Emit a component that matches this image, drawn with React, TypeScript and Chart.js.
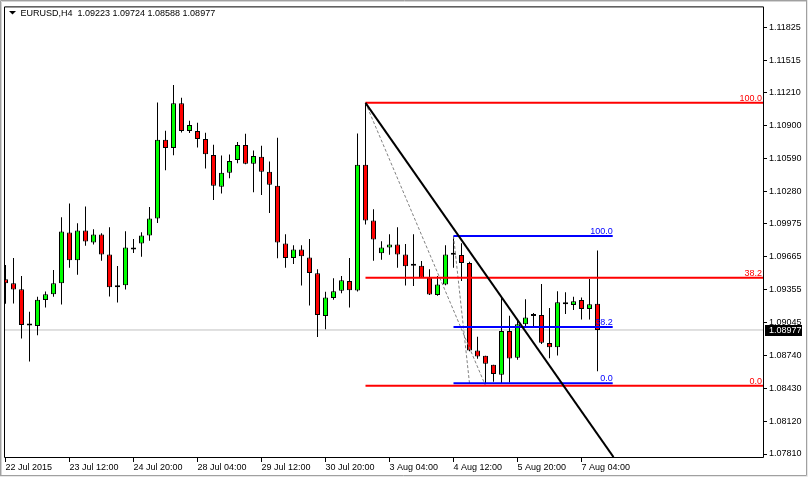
import React, { useEffect, useRef } from "react";
import { Chart, registerables } from "chart.js";

Chart.register(...registerables);

// ---- Data (EURUSD H4, bar index 0..74) ----
const opens = [
  1.09454, 1.09417, 1.09361, 1.09024, 1.09014, 1.09258, 1.09314, 1.09417, 1.09894, 1.09632,
  1.09913, 1.09801, 1.09876, 1.09688, 1.0938, 1.09398, 1.09754, 1.09791, 1.09866, 1.10025,
  1.10767, 1.1069, 1.11111, 1.10849, 1.10849, 1.10774, 1.10624, 1.10325, 1.10456, 1.10577,
  1.10718, 1.1054, 1.10606, 1.10465, 1.10334, 1.09791, 1.09654, 1.09735, 1.0966, 1.09511,
  1.09108, 1.09277, 1.09345, 1.09439, 1.09348, 1.10531, 1.10007, 1.09698, 1.09754, 1.09782,
  1.09688, 1.09585, 1.09582, 1.09469, 1.09305, 1.09404, 1.09685, 1.09682, 1.09607, 1.08783,
  1.08734, 1.0865, 1.08556, 1.08968, 1.08715, 1.0903, 1.09111, 1.09118, 1.08855, 1.08814,
  1.09239, 1.09211, 1.09258, 1.09174, 1.09223,
];
const highs = [
  1.09588, 1.09654, 1.09485, 1.09148, 1.09289, 1.09338, 1.09541, 1.10037, 1.10168, 1.09981,
  1.1014, 1.09925, 1.09888, 1.09944, 1.09579, 1.09906, 1.09832, 1.09897, 1.10134, 1.11117,
  1.10852, 1.11282, 1.11161, 1.10945, 1.10927, 1.10833, 1.10721, 1.10618, 1.10627, 1.10746,
  1.10824, 1.10665, 1.10711, 1.10562, 1.10786, 1.09878, 1.09775, 1.09775, 1.09832, 1.09548,
  1.09336, 1.09464, 1.09485, 1.09654, 1.10826, 1.11114, 1.10112, 1.09813, 1.09878, 1.09944,
  1.09785, 1.09878, 1.09626, 1.09548, 1.09485, 1.09775, 1.09862, 1.09794, 1.09619, 1.08914,
  1.08734, 1.0865, 1.09282, 1.09111, 1.0908, 1.09267, 1.09136, 1.0941, 1.09183, 1.09342,
  1.09333, 1.09289, 1.09282, 1.09457, 1.09724,
];
const lows = [
  1.09223, 1.09226, 1.08898, 1.0868, 1.08927, 1.09189, 1.09289, 1.09217, 1.09563, 1.09497,
  1.09769, 1.09782, 1.09629, 1.09292, 1.09235, 1.09357, 1.09701, 1.09666, 1.09816, 1.09984,
  1.1048, 1.10621, 1.10836, 1.1083, 1.10695, 1.10496, 1.10199, 1.10262, 1.10405, 1.10546,
  1.10536, 1.10274, 1.10246, 1.10078, 1.09651, 1.09563, 1.09598, 1.09395, 1.09207, 1.08912,
  1.08983, 1.09261, 1.09323, 1.09189, 1.09338, 1.09969, 1.09629, 1.09638, 1.09685, 1.09563,
  1.09395, 1.09392, 1.09466, 1.09305, 1.09298, 1.09398, 1.09563, 1.09439, 1.08777, 1.08706,
  1.0847, 1.0849, 1.08478, 1.08482, 1.08696, 1.09001, 1.09001, 1.08846, 1.08711, 1.08737,
  1.09127, 1.09164, 1.09076, 1.09076, 1.08588,
];
const closes = [
  1.09417, 1.09357, 1.09024, 1.0902, 1.09261, 1.09314, 1.09417, 1.09904, 1.09632, 1.09913,
  1.0981, 1.09876, 1.09688, 1.0938, 1.09398, 1.09754, 1.09735, 1.09866, 1.10025, 1.10767,
  1.1069, 1.11111, 1.10849, 1.10905, 1.10774, 1.1063, 1.10334, 1.10456, 1.10568, 1.10718,
  1.1054, 1.10615, 1.10465, 1.10344, 1.09801, 1.09654, 1.09735, 1.0967, 1.09513, 1.09118,
  1.09282, 1.09342, 1.09445, 1.09351, 1.10531, 1.10007, 1.09829, 1.09754, 1.09782, 1.09688,
  1.09576, 1.09582, 1.09469, 1.0931, 1.09404, 1.09688, 1.09684, 1.09607, 1.08783, 1.08727,
  1.08659, 1.08562, 1.08968, 1.08709, 1.0903, 1.09095, 1.09108, 1.08858, 1.08814, 1.09239,
  1.0922, 1.09248, 1.09174, 1.0922, 1.08977,
];

const xTickIndex = [0, 8, 16, 24, 32, 40, 48, 56, 64, 72];
const xTickLabels = [
  "22 Jul 2015", "23 Jul 12:00", "24 Jul 20:00", "28 Jul 04:00", "29 Jul 12:00",
  "30 Jul 20:00", "3 Aug 04:00", "4 Aug 12:00", "5 Aug 20:00", "7 Aug 04:00",
];
const yTickValues = [
  1.11825, 1.11515, 1.1121, 1.109, 1.1059, 1.1028, 1.09975, 1.09665, 1.09355, 1.09045,
  1.0874, 1.0843, 1.0812, 1.0781,
];

const lastPrice = 1.08977;
const headerText = "EURUSD,H4  1.09223 1.09724 1.08588 1.08977";

const X_MIN = -0.0625;
const X_MAX = 94.6875;
const Y_MIN = 1.077819;
const Y_MAX = 1.120122;

const fibLevels = [0, 38.2, 100];
// red Fibonacci: anchored on bar 45 high -> bar 60 low, levels run to right edge
const redFibAnchor = { fromIndex: 45, toIndex: 60, high: 1.11114, low: 1.08453, endIndex: X_MAX };
// blue Fibonacci: bar 56 high -> bar 58 low
const blueFibAnchor = { fromIndex: 56, toIndex: 58, high: 1.09862, low: 1.08475, endIndex: 75.9 };
// black trend line
const trendPoints = [
  { x: 45, y: 1.11114 },
  { x: 76, y: 1.07781 },
];

const FONT = "'Liberation Sans', Arial, sans-serif";

function fibPrice(f: typeof redFibAnchor, level: number) {
  return f.low + (level / 100) * (f.high - f.low);
}

export default function App() {
  const canvasRef = useRef<HTMLCanvasElement | null>(null);

  useEffect(() => {
    document.body.style.margin = "0";
    const canvas = canvasRef.current;
    if (!canvas) return;

    const hLine = (x0: number, x1: number, y: number, color: string, width: number, order: number) => ({
      type: "line" as const,
      data: [
        { x: x0, y },
        { x: x1, y },
      ],
      borderColor: color,
      borderWidth: width,
      pointRadius: 0,
      fill: false,
      order,
    });

    const datasets: any[] = [];
    // current price line (bottom-most)
    datasets.push(hLine(X_MIN, X_MAX, lastPrice, "#c0c0c0", 1, 30));
    // wicks
    datasets.push({
      type: "bar",
      data: opens.map((_, i) => ({ x: i, y: [lows[i], highs[i]] })),
      backgroundColor: "#000000",
      borderWidth: 0,
      barThickness: 1,
      maxBarThickness: 1,
      grouped: false,
      inflateAmount: 0,
      clip: 0,
      order: 29,
    });
    // bodies
    datasets.push({
      type: "bar",
      data: opens.map((o, i) => ({ x: i, y: [Math.min(o, closes[i]), Math.max(o, closes[i])] })),
      backgroundColor: opens.map((o, i) => (closes[i] >= o ? "#00ff00" : "#ff0000")),
      borderColor: "#000000",
      borderWidth: 1,
      borderSkipped: false,
      barThickness: 5,
      maxBarThickness: 5,
      minBarLength: 2,
      grouped: false,
      inflateAmount: 0,
      clip: 0,
      order: 28,
    });
    // dashed fib trend lines
    datasets.push({
      type: "line",
      data: [
        { x: redFibAnchor.fromIndex, y: redFibAnchor.high },
        { x: redFibAnchor.toIndex, y: redFibAnchor.low },
      ],
      borderColor: "#808080",
      borderWidth: 1,
      borderDash: [3, 2],
      pointRadius: 0,
      order: 12,
    });
    datasets.push({
      type: "line",
      data: [
        { x: blueFibAnchor.fromIndex, y: blueFibAnchor.high },
        { x: blueFibAnchor.toIndex, y: blueFibAnchor.low },
      ],
      borderColor: "#808080",
      borderWidth: 1,
      borderDash: [3, 2],
      pointRadius: 0,
      order: 12,
    });
    // fib level lines
    fibLevels.forEach((lv) => {
      datasets.push(hLine(redFibAnchor.fromIndex, redFibAnchor.endIndex, fibPrice(redFibAnchor, lv), "#ff0000", 2, 10));
      datasets.push(hLine(blueFibAnchor.fromIndex, blueFibAnchor.endIndex, fibPrice(blueFibAnchor, lv), "#0000ff", 2, 10));
    });
    // trend line
    datasets.push({
      type: "line",
      data: trendPoints,
      borderColor: "#000000",
      borderWidth: 2,
      pointRadius: 0,
      order: 5,
    });

    const decor = {
      id: "decor",
      afterDatasetsDraw(chart: any) {
        const ctx = chart.ctx as CanvasRenderingContext2D;
        const xs = chart.scales.x;
        const ys = chart.scales.y;
        ctx.save();
        ctx.font = `9px ${FONT}`;
        ctx.textBaseline = "alphabetic";
        ctx.textAlign = "right";
        fibLevels.forEach((lv) => {
          const label = lv.toFixed(1);
          ctx.fillStyle = "#ff0000";
          ctx.fillText(label, xs.getPixelForValue(redFibAnchor.endIndex) - 1, ys.getPixelForValue(fibPrice(redFibAnchor, lv)) - 2);
          ctx.fillStyle = "#0000ff";
          ctx.fillText(label, xs.getPixelForValue(blueFibAnchor.endIndex), ys.getPixelForValue(fibPrice(blueFibAnchor, lv)) - 2);
        });
        ctx.restore();
      },
      afterDraw(chart: any) {
        const ctx = chart.ctx as CanvasRenderingContext2D;
        const a = chart.chartArea;
        const ys = chart.scales.y;
        const W = chart.width;
        const H = chart.height;
        ctx.save();
        // plot frame
        ctx.strokeStyle = "#000000";
        ctx.lineWidth = 1;
        ctx.beginPath();
        ctx.moveTo(a.left - 0.5, a.top - 0.5);
        ctx.lineTo(a.right + 0.5, a.top - 0.5);
        ctx.lineTo(a.right + 0.5, a.bottom + 0.5);
        ctx.lineTo(a.left - 0.5, a.bottom + 0.5);
        ctx.closePath();
        ctx.stroke();
        // window border
        ctx.strokeStyle = "#a0a0a0";
        ctx.beginPath();
        ctx.moveTo(0.5, H);
        ctx.lineTo(0.5, 0.5);
        ctx.lineTo(W, 0.5);
        ctx.stroke();
        ctx.strokeStyle = "#d4d4d4";
        ctx.beginPath();
        ctx.moveTo(1.5, H);
        ctx.lineTo(1.5, 1.5);
        ctx.lineTo(W, 1.5);
        ctx.stroke();
        ctx.strokeStyle = "#a0a0a0";
        ctx.beginPath();
        ctx.moveTo(W - 1.5, 0);
        ctx.lineTo(W - 1.5, H - 1.5);
        ctx.lineTo(0, H - 1.5);
        ctx.stroke();
        ctx.strokeStyle = "#e8e8e8";
        ctx.beginPath();
        ctx.moveTo(W - 0.5, 0);
        ctx.lineTo(W - 0.5, H - 0.5);
        ctx.lineTo(0, H - 0.5);
        ctx.stroke();
        // header
        ctx.fillStyle = "#000000";
        ctx.beginPath();
        ctx.moveTo(9, 11);
        ctx.lineTo(16, 11);
        ctx.lineTo(12.5, 14.5);
        ctx.closePath();
        ctx.fill();
        ctx.font = `9px ${FONT}`;
        ctx.textAlign = "left";
        ctx.textBaseline = "alphabetic";
        ctx.fillText(headerText, 20.5, 16);
        // last price box
        const py = Math.round(ys.getPixelForValue(lastPrice));
        ctx.fillStyle = "#000000";
        ctx.fillRect(a.right + 2, py - 5, 37, 11);
        ctx.fillStyle = "#ffffff";
        ctx.textBaseline = "middle";
        ctx.fillText(lastPrice.toFixed(5), a.right + 6, py + 0.5);
        ctx.restore();
      },
    };

    const chart = new Chart(canvas, {
      type: "bar",
      data: { datasets },
      options: {
        responsive: false,
        animation: false,
        events: [],
        layout: { padding: { left: 5, top: 5, right: 0, bottom: 0 }, autoPadding: false },
        plugins: { legend: { display: false }, tooltip: { enabled: false }, title: { display: false } },
        scales: {
          x: {
            type: "linear",
            position: "bottom",
            min: X_MIN,
            max: X_MAX,
            offset: false,
            grid: { display: true, drawOnChartArea: false, drawTicks: true, tickLength: 5, color: "#000000", offset: false },
            border: { display: false },
            afterBuildTicks: (scale: any) => {
              scale.ticks = xTickIndex.map((v) => ({ value: v }));
            },
            afterFit: (scale: any) => {
              scale.height = 20;
            },
            ticks: {
              autoSkip: false,
              maxRotation: 0,
              minRotation: 0,
              align: "start",
              padding: 0,
              color: "#000000",
              font: { family: FONT, size: 9 },
              callback: (value: any) => {
                const k = xTickIndex.indexOf(Number(value));
                return k >= 0 ? xTickLabels[k] : "";
              },
            },
          },
          y: {
            type: "linear",
            position: "right",
            min: Y_MIN,
            max: Y_MAX,
            beginAtZero: false,
            grid: { display: true, drawOnChartArea: false, drawTicks: true, tickLength: 4, color: "#000000" },
            border: { display: false },
            afterBuildTicks: (scale: any) => {
              scale.ticks = yTickValues.map((v) => ({ value: v }));
            },
            afterFit: (scale: any) => {
              scale.width = 45;
            },
            ticks: {
              autoSkip: false,
              padding: 2,
              color: "#000000",
              font: { family: FONT, size: 9 },
              callback: (value: any) => Number(value).toFixed(5),
            },
          },
        },
      } as any,
      plugins: [decor],
    });

    return () => chart.destroy();
  }, []);

  return (
    <div style={{ width: 808, height: 477, background: "#ffffff" }}>
      <canvas ref={canvasRef} width={808} height={477} style={{ display: "block" }} />
    </div>
  );
}
